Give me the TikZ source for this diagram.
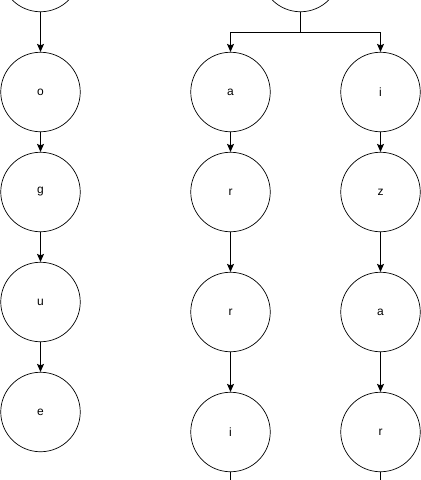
\documentclass[tikz,border=0pt]{standalone}
\usepackage{fontspec}
\setmainfont{Liberation Sans}
\usetikzlibrary{arrows.meta}
\begin{document}
\begin{tikzpicture}[x=1pt,y=-1pt,
  letter/.style={circle,draw,line width=0.7pt,minimum size=79.5pt,inner sep=0pt,font=\fontsize{12}{14}\selectfont},
  link/.style={line width=0.9pt,-{Stealth[length=8pt,width=7pt,inset=1.5pt]}},
  plain/.style={line width=0.9pt}]
\useasboundingbox (0,0) rectangle (421,480);
\clip (0,0) rectangle (421,480);
% left column
\node[letter] (l0) at (40.5,-28) {};
\node[letter] (l1) at (40.5,92) {o};
\node[letter] (l2) at (40.5,192) {g};
\node[letter] (l3) at (40.5,302) {u};
\node[letter] (l4) at (40.5,412) {e};
% top right root
\node[letter] (t0) at (300.5,-28) {};
% middle column
\node[letter] (m1) at (230.5,92) {a};
\node[letter] (m2) at (230.5,192) {r};
\node[letter] (m3) at (230.5,312) {r};
\node[letter] (m4) at (230.5,432) {i};
% right column
\node[letter] (r1) at (380.5,92) {i};
\node[letter] (r2) at (380.5,192) {z};
\node[letter] (r3) at (380.5,312) {a};
\node[letter] (r4) at (380.5,432) {r};
\coordinate (br) at (300.5,32);
\coordinate (mend) at (230.5,490);
\coordinate (rend) at (380.5,490);
% connectors
\draw[link] (l0) -- (l1);
\draw[link] (l1) -- (l2);
\draw[link] (l2) -- (l3);
\draw[link] (l3) -- (l4);
\draw[plain] (t0) -- (br);
\draw[link] (br) -| (m1);
\draw[link] (br) -| (r1);
\draw[link] (m1) -- (m2);
\draw[link] (m2) -- (m3);
\draw[link] (m3) -- (m4);
\draw[plain] (m4) -- (mend);
\draw[link] (r1) -- (r2);
\draw[link] (r2) -- (r3);
\draw[link] (r3) -- (r4);
\draw[plain] (r4) -- (rend);
\end{tikzpicture}
\end{document}
